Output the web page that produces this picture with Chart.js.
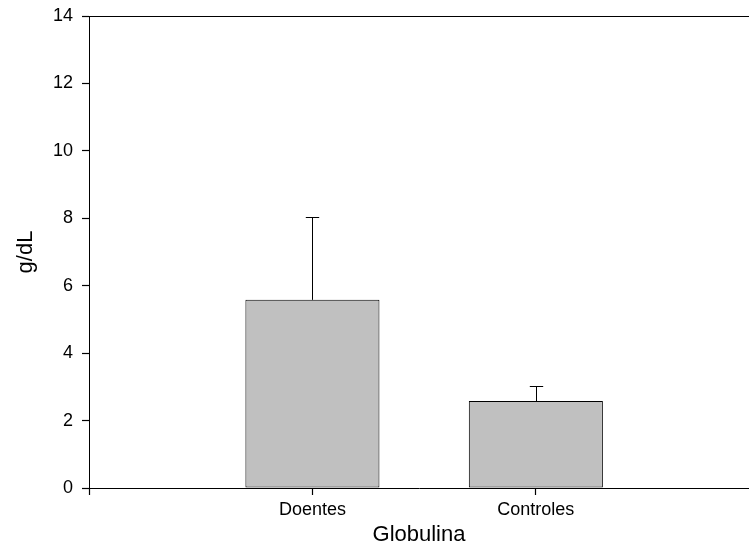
<!DOCTYPE html>
<html>
<head>
<meta charset="utf-8">
<title>Globulina</title>
<script src="https://cdn.jsdelivr.net/npm/chart.js@4/dist/chart.umd.min.js"></script>
<style>
  html, body { margin: 0; padding: 0; background: #fff; overflow: hidden; }
  #wrap { width: 749px; height: 550px; }
</style>
</head>
<body>
<div id="wrap"><canvas id="c" width="749" height="550"></canvas></div>
<script>
// Group labels, mean values and upper standard deviations (g/dL)
const categories = ['Doentes', 'Controles'];
const positions = [1, 2];
const means = [5.58, 2.58];
const sdUpper = [2.45, 0.45];
const yTicks = [0, 2, 4, 6, 8, 10, 12, 14];

const FONT = '"Liberation Sans", Arial, Helvetica, sans-serif';

// One-sided (upward) error bars with a short cap
const errorBars = {
  id: 'errorBars',
  afterDatasetsDraw(chart) {
    const meta = chart.getDatasetMeta(0);
    const y = chart.scales.y;
    const ctx = chart.ctx;
    ctx.save();
    ctx.strokeStyle = '#000';
    ctx.lineWidth = 1;
    meta.data.forEach((bar, i) => {
      const x = Math.round(bar.x) + 0.5;
      const top = Math.round(y.getPixelForValue(means[i] + sdUpper[i])) + 0.5;
      const half = bar.width * 0.05;
      ctx.beginPath();
      ctx.moveTo(x, bar.y);
      ctx.lineTo(x, top);
      ctx.moveTo(x - half, top);
      ctx.lineTo(x + half, top);
      ctx.stroke();
    });
    ctx.restore();
  }
};

// Closing line along the top of the plot area
const topFrame = {
  id: 'topFrame',
  afterDraw(chart) {
    const a = chart.chartArea;
    const ctx = chart.ctx;
    ctx.save();
    ctx.strokeStyle = '#000';
    ctx.lineWidth = 1;
    ctx.beginPath();
    const yy = Math.round(a.top) + 0.5;
    ctx.moveTo(a.left, yy);
    ctx.lineTo(a.right, yy);
    ctx.stroke();
    ctx.restore();
  }
};

new Chart(document.getElementById('c'), {
  type: 'bar',
  data: {
    datasets: [{
      data: positions.map((p, i) => ({ x: p, y: means[i] })),
      backgroundColor: '#c0c0c0',
      borderColor: '#000',
      borderWidth: 1,
      borderSkipped: false,
      barPercentage: 0.6,
      categoryPercentage: 1.0
    }]
  },
  options: {
    responsive: false,
    animation: false,
    layout: { padding: { top: 16, right: 0, left: 0, bottom: 0 } },
    plugins: { legend: { display: false }, tooltip: { enabled: false } },
    scales: {
      x: {
        type: 'linear',
        offset: false,
        min: 0,
        max: 2.954,
        afterBuildTicks: s => { s.ticks = [0, ...positions].map(v => ({ value: v })); },
        afterFit: s => { s.height = 62; s.paddingLeft = 0; s.paddingRight = 0; },
        ticks: {
          color: '#000',
          font: { family: FONT, size: 18 },
          padding: 4,
          maxRotation: 0,
          autoSkip: false,
          callback: v => { const k = positions.indexOf(v); return k >= 0 ? categories[k] : ''; }
        },
        grid: { offset: false, drawOnChartArea: false, color: '#000', tickColor: '#000', tickWidth: 1.2, tickLength: 7 },
        border: { color: '#000', width: 1 },
        title: {
          display: true,
          text: 'Globulina',
          color: '#000',
          font: { family: FONT, size: 22 },
          padding: { top: 4, bottom: 2 }
        }
      },
      y: {
        min: 0,
        max: 14,
        afterBuildTicks: s => { s.ticks = yTicks.map(v => ({ value: v })); },
        afterFit: s => { s.width = 89; s.paddingTop = 0; s.paddingBottom = 0; },
        ticks: {
          color: '#000',
          font: { family: FONT, size: 18 },
          padding: 9
        },
        grid: { drawOnChartArea: false, color: '#000', tickColor: '#000', tickWidth: 1.2, tickLength: 7 },
        border: { color: '#000', width: 1 },
        title: {
          display: true,
          text: 'g/dL',
          color: '#000',
          font: { family: FONT, size: 22 },
          padding: { top: 13, bottom: 0 }
        }
      }
    }
  },
  plugins: [errorBars, topFrame]
});
</script>
</body>
</html>
